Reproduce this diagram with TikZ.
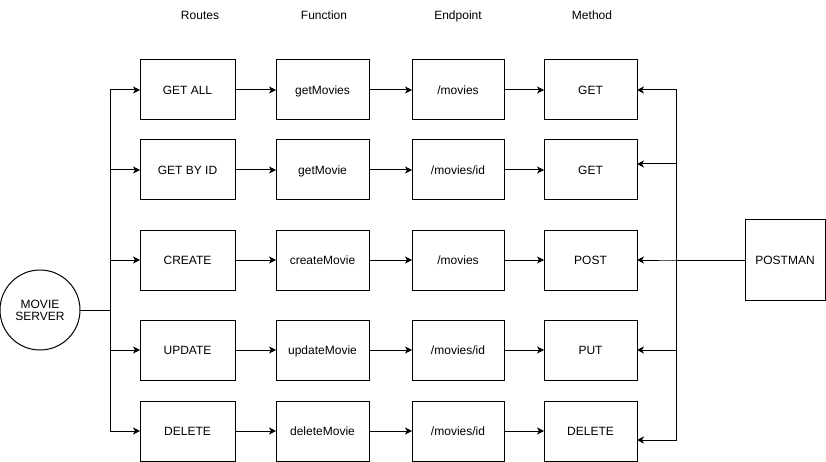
\documentclass[tikz,border=0pt]{standalone}
\usepackage{fontspec}
\setmainfont{Liberation Sans}
\usetikzlibrary{arrows.meta}
\begin{document}
\begin{tikzpicture}[x=1pt,y=-1pt,
  every node/.style={font=\fontsize{12}{14}\selectfont},
  box/.style={draw,line width=1pt,rectangle,minimum height=60pt,inner sep=0pt,outer sep=0pt,text height=8.6pt,text depth=0pt},
  rbox/.style={box,minimum width=95pt},
  fbox/.style={box,minimum width=93pt},
  ebox/.style={box,minimum width=92pt},
  mbox/.style={box,minimum width=93pt},
  hdr/.style={inner sep=0pt,text height=8.6pt,text depth=0pt},
  arr/.style={line width=1pt,-{Stealth[length=7pt,width=7pt,inset=2pt]}},
  ln/.style={line width=1pt}]
\useasboundingbox (0,0) rectangle (826,462);
% headers
\node[hdr] (h1) at (200,15.5) {Routes};
\node[hdr] (h2) at (324,15.5) {Function};
\node[hdr] (h3) at (458,15.5) {Endpoint};
\node[hdr] (h4) at (592,15.5) {Method};
% server
\node[draw,line width=1pt,circle,minimum size=80pt,inner sep=0pt,outer sep=0pt,align=center] (srv) at (40,310) {MOVIE\\[-2pt]SERVER};
% rows
\node[rbox] (r1) at (187.5,90) {GET ALL};
\node[rbox] (r2) at (187.5,170) {GET BY ID};
\node[rbox] (r3) at (187.5,260) {CREATE};
\node[rbox] (r4) at (187.5,350) {UPDATE};
\node[rbox] (r5) at (187.5,431) {DELETE};
\node[fbox] (f1) at (322.5,90) {getMovies};
\node[fbox] (f2) at (322.5,170) {getMovie};
\node[fbox] (f3) at (322.5,260) {createMovie};
\node[fbox] (f4) at (322.5,350) {updateMovie};
\node[fbox] (f5) at (322.5,431) {deleteMovie};
\node[ebox] (e1) at (458,90) {/movies};
\node[ebox] (e2) at (458,170) {/movies/id};
\node[ebox] (e3) at (458,260) {/movies};
\node[ebox] (e4) at (458,350) {/movies/id};
\node[ebox] (e5) at (458,431) {/movies/id};
\node[mbox] (m1) at (590.5,90) {GET};
\node[mbox] (m2) at (590.5,170) {GET};
\node[mbox] (m3) at (590.5,260) {POST};
\node[mbox] (m4) at (590.5,350) {PUT};
\node[mbox] (m5) at (590.5,431) {DELETE};
\node[box,minimum width=80pt,minimum height=80pt] (pm) at (785,260) {POSTMAN};
% junctions
\coordinate (jL) at (110,310);
\coordinate (jR) at (676,260);
% left fan
\foreach \i in {1,...,5} {
  \draw[arr] (srv.east) -- (jL) |- (r\i.west);
  \draw[arr] (r\i.east) -- (f\i.west);
  \draw[arr] (f\i.east) -- (e\i.west);
  \draw[arr] (e\i.east) -- (m\i.west);
}
% right fan
\draw[arr] (pm.west) -- (jR) |- (m1.east);
\draw[arr] (pm.west) -- (jR) |- ([yshift=6pt]m2.east);
\draw[arr] (pm.west) -- (jR) -- (m3.east);
\draw[arr] (pm.west) -- (jR) |- (m4.east);
\draw[arr] (pm.west) -- (jR) |- ([yshift=-9pt]m5.east);
\end{tikzpicture}
\end{document}
